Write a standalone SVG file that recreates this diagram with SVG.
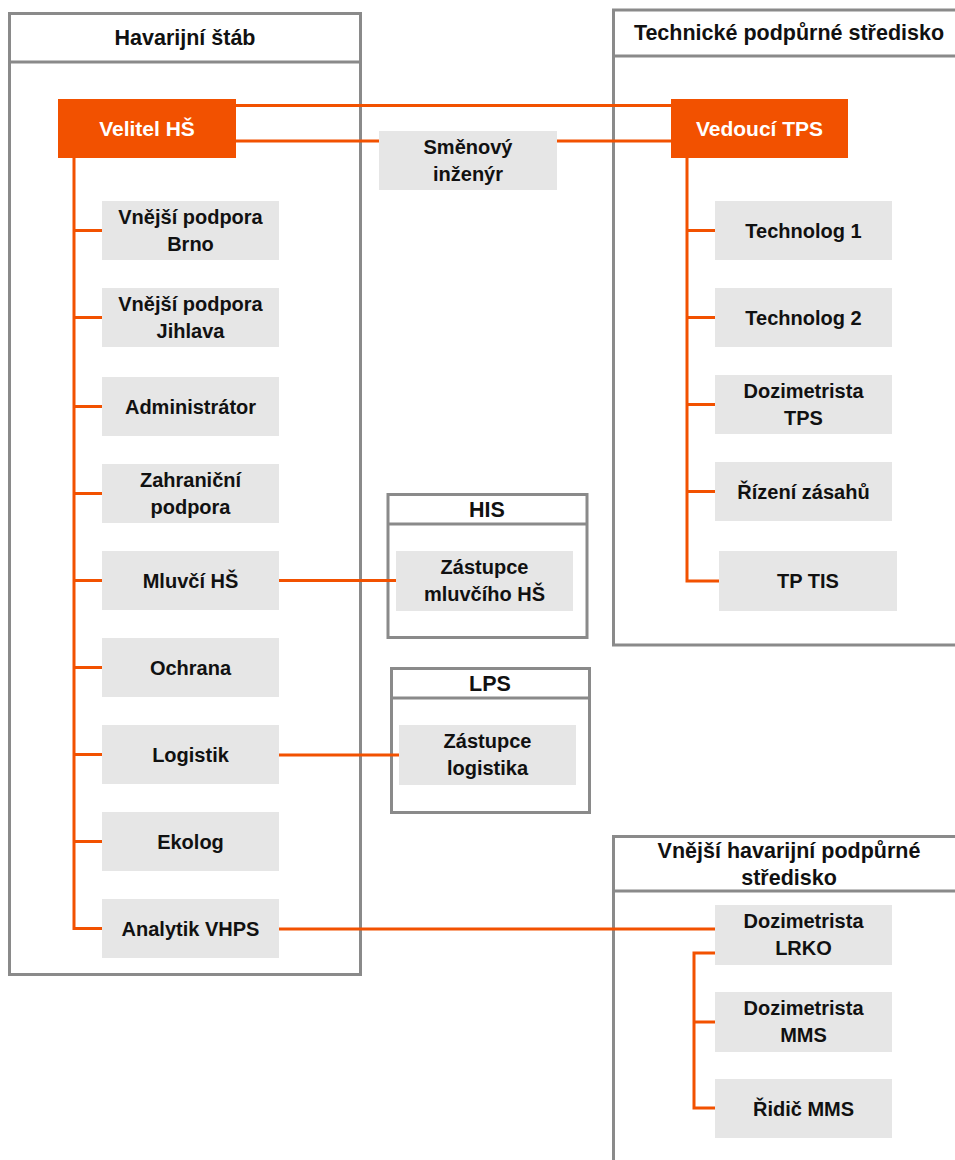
<svg xmlns="http://www.w3.org/2000/svg" width="955" height="1160" viewBox="0 0 955 1160">
<style>
.cont{fill:#fff;stroke:#8a8a8a;stroke-width:3}
.div{stroke:#8a8a8a;stroke-width:3;fill:none}
.box{fill:#e6e6e6}
.lead{fill:#f25100}
.t{font-family:"Liberation Sans",Arial,sans-serif;font-weight:bold;font-size:20px;fill:#111;text-anchor:middle}
.h{font-family:"Liberation Sans",Arial,sans-serif;font-weight:bold;font-size:21.5px;fill:#111;text-anchor:middle}
.tw{font-family:"Liberation Sans",Arial,sans-serif;font-weight:bold;font-size:21px;fill:#fff;text-anchor:middle}
.ln{stroke:#f25100;stroke-width:3;fill:none}
</style>
<rect width="955" height="1160" fill="#fff"/>
<g id="hs-container">
<rect class="cont" x="9.5" y="13.5" width="351" height="961"/>
<line class="div" x1="9.5" y1="62" x2="360.5" y2="62"/>
<text class="h" x="185" y="45">Havarijní štáb</text>
</g>
<g id="tps-container">
<path class="div" d="M970 10 H613.5 V645 H970"/>
<line class="div" x1="613.5" y1="56" x2="970" y2="56"/>
<text class="h" x="789" y="40">Technické podpůrné středisko</text>
</g>
<g id="his-container">
<rect class="cont" x="388" y="494.5" width="199" height="143"/>
<line class="div" x1="388" y1="524" x2="587" y2="524"/>
<text class="h" x="487" y="517">HIS</text>
</g>
<g id="lps-container">
<rect class="cont" x="391.5" y="668.5" width="198" height="144"/>
<line class="div" x1="391.5" y1="698" x2="589.5" y2="698"/>
<text class="h" x="490" y="691">LPS</text>
</g>
<g id="vhps-container">
<path class="div" d="M970 836.5 H613.5 V1170"/>
<line class="div" x1="613.5" y1="891" x2="970" y2="891"/>
<text class="h" x="789" y="858">Vnější havarijní podpůrné</text>
<text class="h" x="789" y="885">středisko</text>
</g>
<g id="connectors">
<line class="ln" x1="236" y1="105.5" x2="671" y2="105.5"/>
<line class="ln" x1="236" y1="141" x2="380" y2="141"/>
<line class="ln" x1="557" y1="141" x2="671" y2="141"/>
<polyline class="ln" points="74,158 74,928.5 102,928.5"/>
<line class="ln" x1="74" y1="230.5" x2="102" y2="230.5"/>
<line class="ln" x1="74" y1="317.5" x2="102" y2="317.5"/>
<line class="ln" x1="74" y1="406.5" x2="102" y2="406.5"/>
<line class="ln" x1="74" y1="493.5" x2="102" y2="493.5"/>
<line class="ln" x1="74" y1="580.5" x2="102" y2="580.5"/>
<line class="ln" x1="74" y1="667.5" x2="102" y2="667.5"/>
<line class="ln" x1="74" y1="754.5" x2="102" y2="754.5"/>
<line class="ln" x1="74" y1="841.5" x2="102" y2="841.5"/>
<line class="ln" x1="279" y1="580.5" x2="396" y2="580.5"/>
<line class="ln" x1="279" y1="755" x2="399" y2="755"/>
<line class="ln" x1="279" y1="929" x2="715" y2="929"/>
<polyline class="ln" points="687,158 687,581 719,581"/>
<line class="ln" x1="687" y1="230.5" x2="715" y2="230.5"/>
<line class="ln" x1="687" y1="317.5" x2="715" y2="317.5"/>
<line class="ln" x1="687" y1="404.5" x2="715" y2="404.5"/>
<line class="ln" x1="687" y1="491.5" x2="715" y2="491.5"/>
<polyline class="ln" points="715,953 694,953 694,1108 715,1108"/>
<line class="ln" x1="694" y1="1022" x2="715" y2="1022"/>
</g>
<g id="velitel-hs"><rect class="lead" x="58" y="99" width="178" height="59"/><text class="tw" x="147" y="136">Velitel HŠ</text></g>
<g id="vedouci-tps"><rect class="lead" x="671" y="99" width="177" height="59"/><text class="tw" x="759.5" y="136">Vedoucí TPS</text></g>
<g id="smenovy-inzenyr"><rect class="box" x="379" y="131" width="178" height="59"/><text class="t" x="468" y="154">Směnový</text><text class="t" x="468" y="181">inženýr</text></g>
<g id="brno"><rect class="box" x="102" y="201" width="177" height="59"/><text class="t" x="190.5" y="224">Vnější podpora</text><text class="t" x="190.5" y="251">Brno</text></g>
<g id="jihlava"><rect class="box" x="102" y="288" width="177" height="59"/><text class="t" x="190.5" y="311">Vnější podpora</text><text class="t" x="190.5" y="338">Jihlava</text></g>
<g id="administrator"><rect class="box" x="102" y="377" width="177" height="59"/><text class="t" x="190.5" y="413.5">Administrátor</text></g>
<g id="zahranicni"><rect class="box" x="102" y="464" width="177" height="59"/><text class="t" x="190.5" y="487">Zahraniční</text><text class="t" x="190.5" y="514">podpora</text></g>
<g id="mluvci"><rect class="box" x="102" y="551" width="177" height="59"/><text class="t" x="190.5" y="587.5">Mluvčí HŠ</text></g>
<g id="ochrana"><rect class="box" x="102" y="638" width="177" height="59"/><text class="t" x="190.5" y="674.5">Ochrana</text></g>
<g id="logistik"><rect class="box" x="102" y="725" width="177" height="59"/><text class="t" x="190.5" y="761.5">Logistik</text></g>
<g id="ekolog"><rect class="box" x="102" y="812" width="177" height="59"/><text class="t" x="190.5" y="848.5">Ekolog</text></g>
<g id="analytik"><rect class="box" x="102" y="899" width="177" height="59"/><text class="t" x="190.5" y="935.5">Analytik VHPS</text></g>
<g id="zastupce-mluvciho"><rect class="box" x="396" y="551" width="177" height="60"/><text class="t" x="484.5" y="574">Zástupce</text><text class="t" x="484.5" y="601">mluvčího HŠ</text></g>
<g id="zastupce-logistika"><rect class="box" x="399" y="725" width="177" height="60"/><text class="t" x="487.5" y="748">Zástupce</text><text class="t" x="487.5" y="775">logistika</text></g>
<g id="technolog1"><rect class="box" x="715" y="201" width="177" height="59"/><text class="t" x="803.5" y="237.5">Technolog 1</text></g>
<g id="technolog2"><rect class="box" x="715" y="288" width="177" height="59"/><text class="t" x="803.5" y="324.5">Technolog 2</text></g>
<g id="dozimetrista-tps"><rect class="box" x="715" y="375" width="177" height="59"/><text class="t" x="803.5" y="398">Dozimetrista</text><text class="t" x="803.5" y="425">TPS</text></g>
<g id="rizeni-zasahu"><rect class="box" x="715" y="462" width="177" height="59"/><text class="t" x="803.5" y="498.5">Řízení zásahů</text></g>
<g id="tp-tis"><rect class="box" x="719" y="551" width="178" height="60"/><text class="t" x="808" y="588">TP TIS</text></g>
<g id="dozimetrista-lrko"><rect class="box" x="715" y="905" width="177" height="60"/><text class="t" x="803.5" y="928">Dozimetrista</text><text class="t" x="803.5" y="955">LRKO</text></g>
<g id="dozimetrista-mms"><rect class="box" x="715" y="992" width="177" height="60"/><text class="t" x="803.5" y="1015">Dozimetrista</text><text class="t" x="803.5" y="1042">MMS</text></g>
<g id="ridic-mms"><rect class="box" x="715" y="1079" width="177" height="59"/><text class="t" x="803.5" y="1115.5">Řidič MMS</text></g>
</svg>
